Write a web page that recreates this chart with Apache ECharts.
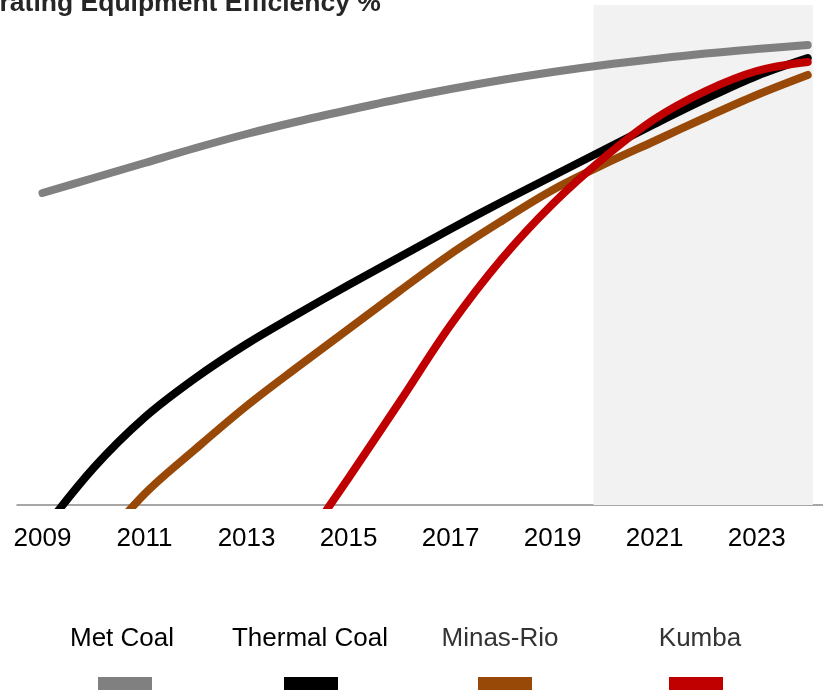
<!DOCTYPE html>
<html>
<head>
<meta charset="utf-8">
<title>Operating Equipment Efficiency</title>
<script src="https://cdn.jsdelivr.net/npm/echarts@6/dist/echarts.min.js"></script>
<style>
  html, body { margin: 0; padding: 0; background: #fff; }
  #chart { width: 823px; height: 690px; }
</style>
</head>
<body>
<div id="chart"></div>
<script>
// values, in % (no y labels shown)
var metCoalYears = [2009, 2010, 2011, 2012, 2013, 2014, 2015, 2016, 2017, 2018, 2019, 2020, 2021, 2022, 2023, 2024]
var metCoalValues = [62.4, 65.4, 68.4, 71.4, 74.2, 76.7, 79.0, 81.2, 83.2, 85.0, 86.6, 88.0, 89.2, 90.3, 91.2, 92.0]

var thermalYears = [2009, 2010, 2011, 2012, 2013, 2014, 2015, 2016, 2017, 2018, 2019, 2020, 2021, 2022, 2023, 2024]
var thermalValues = [-5.2, 7.4, 17.5, 25.4, 32.2, 38.2, 44.0, 49.6, 55.2, 60.6, 65.8, 71.0, 76.2, 81.2, 85.8, 89.4]

var minasYears = [2010, 2011, 2012, 2013, 2014, 2015, 2016, 2017, 2018, 2019, 2020, 2021, 2022, 2023, 2024]
var minasValues = [-9.5, 2.2, 11.2, 19.8, 27.6, 35.2, 42.8, 50.2, 56.8, 63.0, 68.1, 72.8, 77.5, 82.0, 86.0]

var kumbaYears = [2014, 2015, 2016, 2017, 2018, 2019, 2020, 2021, 2022, 2023, 2024]
var kumbaValues = [-9.4, 5.4, 20.6, 36.0, 49.2, 60.2, 69.4, 77.2, 82.8, 86.8, 88.6]

var yearLabels = [2009, 2011, 2013, 2015, 2017, 2019, 2021, 2023]
var forecastRange = [2019.8, 2024.1]

var seriesNames = ['Met Coal', 'Thermal Coal', 'Minas-Rio', 'Kumba']
var seriesColors = ['#808080', '#000000', '#984807', '#C00000']

var FONT = '"Liberation Sans", Arial, Helvetica, sans-serif'

function zip(xs, ys) {
  return xs.map(function(x, i) { return [x, ys[i]] })
}

var allData = [
  zip(metCoalYears, metCoalValues),
  zip(thermalYears, thermalValues),
  zip(minasYears, minasValues),
  zip(kumbaYears, kumbaValues)
]

// legend: label text above, coloured swatch below
var legendCenters = [122, 310, 500, 700]
var swatchLeft = [98, 284, 478, 669]
var labelColors = ['#000', '#000', '#333', '#333']

var chart = echarts.init(document.getElementById('chart'))

chart.setOption({
  animation: false,
  title: {
    text: 'Operating Equipment Efficiency %',
    left: -52,
    top: -10,
    padding: 0,
    textStyle: {
      fontFamily: FONT,
      fontSize: 26.5,
      fontWeight: 'bold',
      color: '#262626'
    }
  },
  grid: {
    left: 17,
    right: 0,
    top: 5,
    bottom: 185,
    containLabel: false
  },
  xAxis: {
    type: 'value',
    min: 2008.5,
    max: 2024.3,
    splitLine: { show: false },
    axisTick: { show: false },
    axisLine: {
      lineStyle: { color: '#8a8a8a', width: 1.5 }
    },
    axisLabel: {
      customValues: yearLabels,
      margin: 21,
      fontFamily: FONT,
      fontSize: 26,
      color: '#000',
      formatter: function(v) { return String(v) }
    }
  },
  yAxis: {
    type: 'value',
    min: 0,
    max: 100,
    show: false
  },
  legend: seriesNames.map(function(name, i) {
    return {
      data: [name],
      left: swatchLeft[i],
      top: 677,
      padding: 0,
      icon: 'rect',
      itemWidth: 54,
      itemHeight: 14,
      selectedMode: false,
      formatter: function() { return '' }
    }
  }),
  graphic: seriesNames.map(function(name, i) {
    return {
      type: 'text',
      x: legendCenters[i],
      y: 626,
      style: {
        text: name,
        fontFamily: FONT,
        fontSize: 26,
        fill: labelColors[i],
        textAlign: 'center',
        textVerticalAlign: 'top'
      }
    }
  }),
  series: seriesNames.map(function(name, i) {
    var s = {
      name: name,
      type: 'line',
      data: allData[i],
      smooth: 0.35,
      symbol: 'none',
      clip: true,
      color: seriesColors[i],
      lineStyle: {
        width: 8,
        color: seriesColors[i],
        cap: 'round'
      }
    }
    if (i === 0) {
      s.markArea = {
        silent: true,
        itemStyle: { color: '#f2f2f2' },
        data: [[{ xAxis: forecastRange[0] }, { xAxis: forecastRange[1] }]]
      }
    }
    return s
  })
})
</script>
</body>
</html>
